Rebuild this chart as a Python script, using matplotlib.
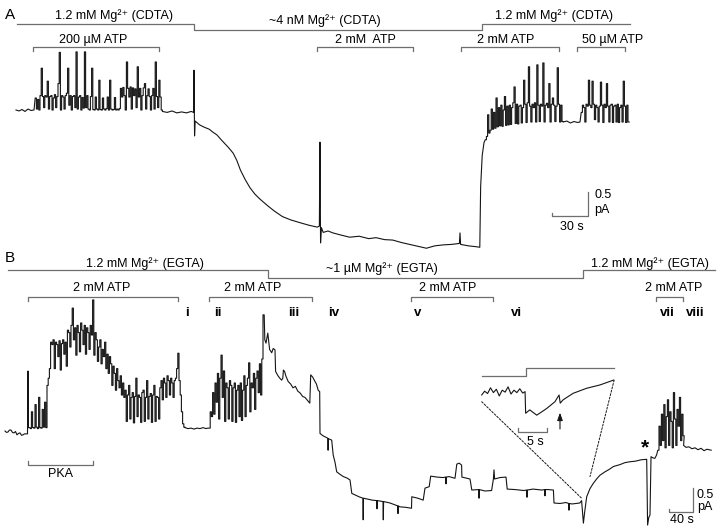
"""Single-channel current traces: Mg2+ and ATP dependence (panels A and B)."""
import numpy as np
import matplotlib

matplotlib.use("Agg")
import matplotlib.pyplot as plt
from matplotlib.patches import ConnectionPatch

plt.rcParams.update({
    "font.family": ["Liberation Sans", "DejaVu Sans"],
    "font.size": 9,
})
W, H = 720, 530
TRACE = "#151515"
GUIDE = "#6e6e6e"

# ---- panel A: time (s), current (pA) -------------------------------------- #
A_PRE = [(0, 0.0), (2.5, -0.02), (5, 0.01), (7.5, -0.03), (10, 0.02), (12.5, -0.01), (15, 0.0)]
A_BURST1_T0 = 16.0          # 200 uM ATP, sampled every 1 s
A_BURST1 = [
    0.25, 0.02, 0.22, 0.00, 0.30, 0.87, 0.28, 0.05, 0.30, 0.27,
    0.60, 0.02, 0.28, 0.30, 0.00, 0.25, 0.32, 0.05, 0.28, 0.55,
    1.20, 0.00, 0.30, 0.27, 0.02, 0.30, 0.35, 0.87, 0.10, 0.30,
    0.00, 0.28, 0.30, 0.05, 1.21, 0.02, 0.27, 0.30, 0.00, 0.26,
    0.04, 1.21, 0.05, 0.30, 0.02, 0.00, 0.28, 0.87, 0.01, 0.00,
    0.27, 0.02, 0.00, 0.62, 0.01, 0.00, 0.25, 0.02, 0.00, 0.03,
    0.27, 0.00, 0.62, 0.02, 0.00, 0.01, 0.26, 0.00, 0.02, 0.00,
    0.03, 0.45, 0.27, 0.47, 0.30, 0.00, 1.00, 0.45, 0.27, 0.48,
    0.02, 0.46, 0.30, 0.44, 0.05, 0.90, 0.27, 0.45, 0.00, 0.30,
    0.46, 0.55, 0.02, 0.30, 0.44, 0.28, 0.00, 0.30, 0.45, 0.02,
    1.00, 0.28, 0.05, 0.62, 0.27, 0.00,
]
A_MID = [
    (122, -0.03), (126, -0.05), (130, -0.02), (134, -0.06), (138, -0.04), (142, -0.06),
    (146, -0.03), (148, -0.05), (148.3, 0.83), (148.8, -0.54), (149.3, -0.23),
    (153, -0.31), (157, -0.36), (161, -0.40), (164, -0.46), (167.5, -0.52), (171, -0.62),
    (174, -0.70), (177, -0.78), (181, -0.90), (184, -1.05), (187, -1.25), (189, -1.35),
    (191, -1.45), (195, -1.62), (199, -1.75), (203, -1.85), (209, -1.98), (215, -2.10),
    (222, -2.22), (229, -2.29), (237, -2.35), (244, -2.40), (251, -2.44),
    (252.8, -2.42), (253.3, -0.67), (253.8, -2.77), (254.5, -2.45), (256, -2.55),
    (260, -2.52), (264, -2.56), (270, -2.60), (278, -2.65), (286, -2.63), (294, -2.68),
    (300, -2.66), (307, -2.70), (314, -2.71), (321, -2.76), (328, -2.80), (335, -2.84),
    (342, -2.88), (349, -2.83), (356, -2.81), (363, -2.80), (369.5, -2.78), (370, -2.56),
    (370.5, -2.80), (377, -2.83), (384, -2.85), (386.5, -2.86), (387.2, -1.60),
    (388.5, -0.95), (390, -0.68),
]
A_BURST2_T0 = 391.0         # 2 mM ATP after Mg2+ returns
A_BURST2 = [
    -0.62, -0.55, -0.10, -0.48, -0.42, 0.02, -0.40, -0.05, -0.38, 0.25,
    -0.35, 0.05, -0.33, 0.10, -0.34, 0.00, 0.28, -0.32, 0.08, -0.31,
    0.10, -0.30, 0.05, 0.15, 0.48, -0.28, 0.12, -0.29, 0.08, 0.10,
    -0.27, 0.05, 0.62, 0.12, -0.26, 0.15, 0.90, 0.08, -0.25, 0.12,
    0.05, 0.15, -0.25, 0.94, 0.10, -0.24, 0.12, 0.08, 0.98, -0.25,
    0.10, 0.14, 0.05, 0.55, -0.25, 0.12, 0.25, 0.10, -0.24, 0.08,
    0.88, 0.12, -0.25, 0.10, -0.24,
]
A_GAP = [(456, -0.25), (459, -0.23), (462, -0.27), (465, -0.24), (468, -0.26), (470, -0.25)]
A_BURST3_T0 = 471.0         # 50 uM ATP
A_BURST3 = [
    -0.05, 0.10, 0.05, -0.25, 0.12, 0.08, 0.62, 0.10, 0.05, 0.60,
    0.12, -0.20, 0.10, 0.05, -0.25, 0.08, 0.58, 0.10, -0.26, 0.12,
    0.05, 0.55, 0.08, -0.25, 0.10, 0.12, -0.26, 0.08, 0.10, -0.25,
    0.12, -0.26, 0.05, 0.10, -0.25, 0.60, 0.08, -0.26, 0.10, -0.25,
]
MG_A_EDGES = [0.8, 148.3, 388.0, 512.0]
MG_A_HIGH = [True, False, True]
MG_A_LABELS = ["1.2 mM Mg²⁺ (CDTA)", "~4 nM Mg²⁺ (CDTA)", "1.2 mM Mg²⁺ (CDTA)"]
ATP_A_START = [14.2, 250.6, 370.6, 467.3]
ATP_A_END = [119.2, 331.1, 452.5, 507.5]
ATP_A_LABELS = ["200 µM ATP", "2 mM  ATP", "2 mM ATP", "50 µM ATP"]

# ---- panel B -------------------------------------------------------------- #
B_PRE = [
    (0, 0.0), (2.5, -0.03), (5, -0.02), (7.5, 0.02), (10, 0.02), (12.5, -0.03), (15, -0.04),
    (17.5, -0.01), (20, -0.08), (22.5, -0.05), (25, -0.04), (27.5, -0.09), (30, -0.08),
    (32.5, -0.06), (35, -0.06), (37.5, -0.06), (38.3, 1.25), (39, 0.07),
]
B_BURST1_T0 = 40.0          # sampled every 2 s
B_BURST1 = [
    0.07, 0.05, 0.40, 0.07, 0.06, 0.55, 0.08, 0.05, 0.70, 0.07,
    0.06, 0.45, 0.08, 0.60, 0.07, 0.95, 1.10, 1.30, 1.85, 1.80,
    1.90, 1.30, 1.85, 1.80, 1.55, 1.88, 1.27, 1.82, 1.90, 1.60,
    1.85, 1.35, 2.10, 2.05, 1.75, 2.20, 2.56, 1.90, 2.15, 1.58,
    2.20, 2.05, 1.65, 2.25, 2.10, 1.80, 2.20, 1.60, 2.15, 2.05,
    1.70, 2.20, 2.00, 2.73, 1.58, 2.05, 1.90, 1.45, 1.75, 1.90,
    1.40, 1.70, 1.55, 1.85, 1.30, 1.60, 1.20, 1.55, 1.40, 0.95,
    1.35, 1.20, 0.85, 1.30, 1.05, 0.90, 1.15, 0.75, 1.00, 0.70,
    0.85, 0.20, 0.75, 0.95, 0.25, 0.70, 0.80, 0.17, 0.72, 1.10,
    0.30, 0.75, 0.70, 0.18, 0.80, 0.85, 0.20, 0.70, 1.05, 0.25,
    0.72, 0.78, 0.18, 0.75, 0.95, 0.20, 0.72, 0.70, 0.25, 0.90,
    1.05, 0.65, 1.10, 1.00, 0.70, 1.15, 1.05, 0.75, 1.10, 1.00,
    0.70, 1.05, 1.10, 1.30, 1.62, 1.05, 0.75, 0.40, 0.15, 0.08,
]
B_MID1 = [(300, 0.07), (305, 0.05), (310, 0.06), (315, 0.04), (320, 0.06), (325, 0.05),
          (330, 0.07), (335, 0.05), (338, 0.06)]
B_BURST2_T0 = 340.0
B_BURST2 = [
    0.06, 0.40, 0.30, 0.80, 0.35, 1.00, 0.60, 1.20, 0.25, 1.10,
    1.58, 0.70, 1.25, 0.20, 1.00, 0.90, 0.25, 1.05, 0.95, 0.20,
    0.90, 1.00, 0.18, 0.85, 0.95, 0.30, 1.00, 0.22, 0.85, 1.15,
    0.30, 0.95, 1.10, 1.42, 0.40, 1.00, 0.90, 1.20, 0.45, 1.10,
    1.25, 0.80, 1.40, 0.75, 1.50, 2.42,
]
B_MID2 = [
    (433, 1.90), (435, 1.83), (438, 2.04), (441, 1.70), (444.5, 1.63), (447, 1.72), (450, 1.69),
    (451, 1.24), (455, 1.15), (458, 1.10), (461, 1.06), (463, 1.10), (464, 1.27), (466, 1.24),
    (468, 1.15), (472, 1.03), (476, 0.98), (480, 0.90), (484, 0.93), (488, 0.83), (492, 0.79),
    (496, 0.72), (500, 0.70), (504, 0.64), (508, 0.58), (509.5, 1.17), (513, 1.12),
    (516.7, 1.03), (519, 0.98), (522, 0.85), (524.5, 0.82), (525, -0.05), (530, -0.10),
    (535, -0.13), (538, -0.15), (538.5, -0.40), (539, -0.16), (544.5, -0.19), (547, -0.50),
    (550, -0.65), (552.8, -0.85), (558, -0.90), (564, -0.95), (570, -0.98), (575, -1.02),
    (578, -1.30), (583, -1.33), (590, -1.37), (596.5, -1.40), (597, -1.85), (597.5, -1.40),
    (605, -1.42), (612, -1.44), (619.5, -1.45), (620, -1.62), (620.5, -1.45), (630, -1.47),
    (630.5, -1.85), (631, -1.47), (641.7, -1.50), (650, -1.54), (654.5, -1.56), (655, -1.72),
    (655.5, -1.56), (658, -1.58), (668, -1.59), (677.5, -1.61), (678, -1.37), (688, -1.40),
    (697, -1.44), (700, -1.19), (707, -1.16), (709.5, -0.94), (720, -0.96), (730, -0.97),
    (734.5, -0.96), (735, -1.10), (735.5, -0.96), (740, -0.95), (750, -0.985), (753, -0.69),
    (757, -0.67), (761, -0.71), (761.5, -0.96), (768, -0.98), (775, -1.00), (778, -1.23),
    (789.5, -1.22), (790, -1.40), (790.5, -1.22), (800, -1.25), (811, -1.24), (814, -1.00),
    (815, -0.81), (816, -1.00), (825, -0.97), (835, -0.96), (837, -1.21), (850, -1.22),
    (865, -1.24), (869.5, -1.23), (870, -1.38), (870.5, -1.23), (880, -1.21), (895, -1.23),
    (899.5, -1.22), (900, -1.35), (900.5, -1.22), (905, -1.22), (914, -1.23), (915, -1.50),
    (925, -1.51), (935, -1.49), (939.5, -1.51), (940, -1.65), (940.5, -1.51), (945, -1.52),
    (958, -1.50), (961, -1.45), (964, -1.92), (966, -1.70), (969.5, -1.37), (975, -1.20),
    (980.5, -1.09), (986, -1.00), (991.7, -0.92), (1000, -0.85), (1007, -0.80),
    (1014, -0.74), (1025, -0.70), (1033, -0.66), (1041.7, -0.64), (1050, -0.63),
    (1060, -0.60), (1069.5, -0.59), (1071, -1.96), (1073, -1.80), (1075, -1.75),
    (1076.7, -0.535), (1080, -0.56), (1083, -0.57), (1086, -0.50),
]
B_BURST3_T0 = 1088.0
B_BURST3 = [
    -0.40, 0.10, -0.30, 0.35, -0.20, 0.55, -0.35, 0.30, 0.65, -0.30,
    0.40, 0.20, -0.35, 0.80, 0.25, -0.30, 0.45, 0.10, 0.70, -0.20,
    0.35, -0.10,
]
B_POST = [(1131, -0.30), (1135, -0.34), (1140, -0.33), (1145, -0.37), (1150, -0.35),
          (1155, -0.39), (1160, -0.36), (1165, -0.41), (1170, -0.38), (1177, -0.40)]
MG_B_EDGES = [5.0, 437.8, 963.3, 1183.3]
MG_B_HIGH = [True, False, True]
MG_B_LABELS = ["1.2 mM Mg²⁺ (EGTA)", "~1 µM Mg²⁺ (EGTA)", "1.2 mM Mg²⁺ (EGTA)"]
ATP_B_START = [38.3, 340.0, 676.2, 1085.0]
ATP_B_END = [288.3, 511.2, 813.8, 1130.5]
PKA_START, PKA_END = 38.3, 147.2
NUMERALS = ["i", "ii", "iii", "iv", "v", "vi", "vii", "viii"]
NUMERAL_T = [303.3, 354.2, 481.7, 548.3, 687.5, 853.3, 1103.3, 1150.0]
STAR_T = 1066.7

# ---- inset: expanded view of the dip near t = 965 s ------------------------ #
INSET_T = [0.0, 0.5, 1.0, 1.5, 2.0, 2.5, 3.0, 3.5, 4.0, 4.5, 5.0, 5.5, 6.0, 6.5, 7.0, 7.4,
           7.5, 8.2, 9.4, 11.1, 12.5, 13.2, 13.4, 13.9, 15.6, 17.9, 20.2, 22.5]
INSET_I = [0.0, 0.08, 0.03, 0.15, 0.05, 0.12, -0.02, 0.10, 0.06, 0.17, 0.02, 0.10, 0.05, 0.13,
           0.04, 0.07, -0.38, -0.31, -0.42, -0.28, -0.14, 0.0, -0.17, -0.10, 0.035, 0.14, 0.21,
           0.31]
INSET_EDGES = [0.0, 7.5, 22.6]
INSET_HIGH = [False, True]
ARROW_T = 13.36


def sheet(fig, x0, y0, px_per_s, px_per_pa):
    """Full-figure axes, t=0 at pixel column x0 and I=0 at pixel row y0."""
    ax = fig.add_axes([0, 0, 1, 1])
    ax.set_xlim(-x0 / px_per_s, (W - x0) / px_per_s)
    ax.set_ylim((y0 - H) / px_per_pa, y0 / px_per_pa)
    ax.axis("off")
    ax.patch.set_alpha(0)
    return ax


def build_trace(*parts):
    """Vertex lists are joined as they are; sampled bursts are drawn as steps."""
    ts, cs = [], []
    for part in parts:
        if isinstance(part[0], tuple):
            t, c = np.array(part, dtype=float).T
        else:
            t0, step, values = part
            c = np.repeat(np.asarray(values, dtype=float), 2)
            t = np.repeat(t0 + step * np.arange(len(values)), 2)
            t[1::2] += step
        ts.append(t)
        cs.append(c)
    return np.concatenate(ts), np.concatenate(cs)


def solution_line(ax, edges, high, y_hi, y_lo):
    xs, ys = [], []
    for a, b, h in zip(edges[:-1], edges[1:], high):
        level = y_hi if h else y_lo
        xs += [a, b]
        ys += [level, level]
    ax.plot(xs, ys, color=GUIDE, lw=0.9)


def bracket(ax, t0, t1, y, tick):
    ax.plot([t0, t0, t1, t1], [y - tick, y, y, y - tick], color=GUIDE, lw=0.9)


def scale_bar(ax, t_right, i_bottom, dt, di, tick):
    ax.plot([t_right - dt, t_right - dt, t_right, t_right],
            [i_bottom + tick, i_bottom, i_bottom, i_bottom + di], color=GUIDE, lw=0.9)


fig = plt.figure(figsize=(W / 100, H / 100), dpi=100)

# ---- panel A ---- #
axA = sheet(fig, 16, 110, 1.2, 48)
tA, iA = build_trace(A_PRE, (A_BURST1_T0, 1.0, A_BURST1), A_MID,
                     (A_BURST2_T0, 1.0, A_BURST2), A_GAP, (A_BURST3_T0, 1.0, A_BURST3))
axA.plot(tA, iA, color=TRACE, lw=0.8)
solution_line(axA, MG_A_EDGES, MG_A_HIGH, 1.785, 1.667)
for label, t, y in zip(MG_A_LABELS, [81.7, 257.5, 448.3], [1.89, 1.80, 1.90]):
    axA.text(t, y, label, ha="center", va="baseline")
for t0, t1 in zip(ATP_A_START, ATP_A_END):
    bracket(axA, t0, t1, 1.31, 0.083)
for label, t in zip(ATP_A_LABELS, [64.2, 290.8, 408.2, 497.1]):
    axA.text(t, 1.40, label, ha="center", va="baseline")
axA.text(-9.2, 1.89, "A", fontsize=11, ha="left", va="baseline")
scale_bar(axA, 476.9, -2.208, 30, 0.5, 0.06)
axA.text(481.9, -1.84, "0.5", ha="left", va="baseline")
axA.text(481.9, -2.14, "pA", ha="left", va="baseline")
axA.text(463.3, -2.50, "30 s", ha="center", va="baseline")

# ---- panel B ---- #
axB = sheet(fig, 5, 431, 0.6, 48)
tB, iB = build_trace(B_PRE, (B_BURST1_T0, 2.0, B_BURST1), B_MID1,
                     (B_BURST2_T0, 2.0, B_BURST2), B_MID2,
                     (B_BURST3_T0, 2.0, B_BURST3), B_POST)
axB.plot(tB, iB, color=TRACE, lw=0.8)
solution_line(axB, MG_B_EDGES, MG_B_HIGH, 3.354, 3.18)
for label, t, y in zip(MG_B_LABELS, [233.3, 628.3, 1075.0], [3.42, 3.32, 3.42]):
    axB.text(t, y, label, ha="center", va="baseline")
for t0, t1 in zip(ATP_B_START, ATP_B_END):
    bracket(axB, t0, t1, 2.80, 0.083)
for t in [161.2, 413.3, 737.5, 1113.8]:
    axB.text(t, 2.92, "2 mM ATP", ha="center", va="baseline")
for label, t in zip(NUMERALS, NUMERAL_T):
    axB.text(t, 2.40, label, ha="center", va="baseline", fontweight="bold", fontsize=9.5)
bracket(axB, PKA_START, PKA_END, -0.708, -0.083)
axB.text((PKA_START + PKA_END) / 2, -0.965, "PKA", ha="center", va="baseline")
axB.text(STAR_T, -0.36, "*", ha="center", va="center", fontsize=15, fontweight="bold")
axB.text(0, 3.53, "B", fontsize=11, ha="left", va="baseline")
scale_bar(axB, 1147.2, -1.68, 40, 0.5, 0.06)
axB.text(1152.8, -1.40, "0.5", ha="left", va="baseline")
axB.text(1152.8, -1.65, "pA", ha="left", va="baseline")
axB.text(1127.8, -1.92, "40 s", ha="center", va="baseline")

# ---- inset ---- #
axI = sheet(fig, 481.7, 395, 5.86, 48)
axI.plot(INSET_T, INSET_I, color=TRACE, lw=0.8)
solution_line(axI, INSET_EDGES, INSET_HIGH, 0.556, 0.40)
bracket(axI, 6.2, 11.2, -0.765, -0.083)
axI.text(9.1, -1.04, "5 s", ha="center", va="baseline")
axI.annotate("", xy=(ARROW_T, -0.31), xytext=(ARROW_T, -0.765),
             arrowprops=dict(arrowstyle="-|>,head_length=0.5,head_width=0.18",
                             color=TRACE, lw=0.8))
for inset_pt, trace_pt in [((0.0, -0.14), (961.0, -1.40)), ((22.6, 0.31), (975.0, -0.95))]:
    fig.add_artist(ConnectionPatch(xyA=inset_pt, coordsA=axI.transData,
                                   xyB=trace_pt, coordsB=axB.transData,
                                   color=TRACE, lw=0.7, ls=(0, (2, 1.6))))

fig.savefig("out.png", dpi=100)
